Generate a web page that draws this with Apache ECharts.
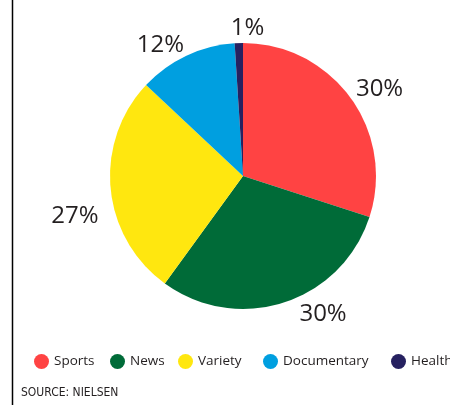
<!DOCTYPE html>
<html>
<head>
<meta charset="utf-8">
<script src="https://cdn.jsdelivr.net/npm/echarts@6/dist/echarts.min.js"></script>
<style>
html,body{margin:0;padding:0;background:#fff;}
#chart{width:450px;height:405px;}
</style>
</head>
<body>
<div id="chart"></div>
<script>
const categories = ['Sports', 'News', 'Variety', 'Documentary', 'Health'];
const values = [30, 30, 27, 12, 1];
const colors = ['#FF4343', '#006B38', '#FFE70F', '#009FE0', '#262160'];
const sourceText = 'SOURCE: NIELSEN';

// small nudges of the outside labels (text only)
const labelNudge = [[-11, 0], [6, -2], [2, 26], [25, -10], [31, -1]];

const chart = echarts.init(document.getElementById('chart'), null, {renderer: 'canvas'});

const legendLefts = [34, 110, 178, 263, 391];
const legends = categories.map((c, i) => ({
  data: [c],
  left: legendLefts[i],
  top: 354,
  padding: 0,
  orient: 'horizontal',
  icon: 'circle',
  itemWidth: 15,
  itemHeight: 15,
  itemGap: 0,
  selectedMode: false,
  textStyle: {fontFamily: 'Open Sans', fontSize: 13.5, color: '#231f20'}
}));

chart.setOption({
  animation: false,
  color: colors,
  legend: legends,
  graphic: [
    {type: 'line', shape: {x1: 12.5, y1: 0, x2: 12.5, y2: 405}, style: {stroke: '#000', lineWidth: 1.5}},
    {type: 'text', left: 21, top: 387, style: {text: sourceText, font: '12px "DejaVu Sans Condensed", "Liberation Sans Narrow", "Open Sans"', fill: '#231f20'}}
  ],
  series: [{
    type: 'pie',
    center: [243, 176],
    radius: 133,
    startAngle: 90,
    clockwise: true,
    label: {
      show: true,
      position: 'outside',
      formatter: '{c}%',
      fontFamily: 'Open Sans',
      fontSize: 24,
      color: '#231f20'
    },
    labelLine: {show: false, length: 14, length2: 0},
    labelLayout: function (p) {
      const n = labelNudge[p.dataIndex];
      return {dx: n[0], dy: n[1]};
    },
    data: categories.map((c, i) => ({name: c, value: values[i]}))
  }]
});
</script>
</body>
</html>
